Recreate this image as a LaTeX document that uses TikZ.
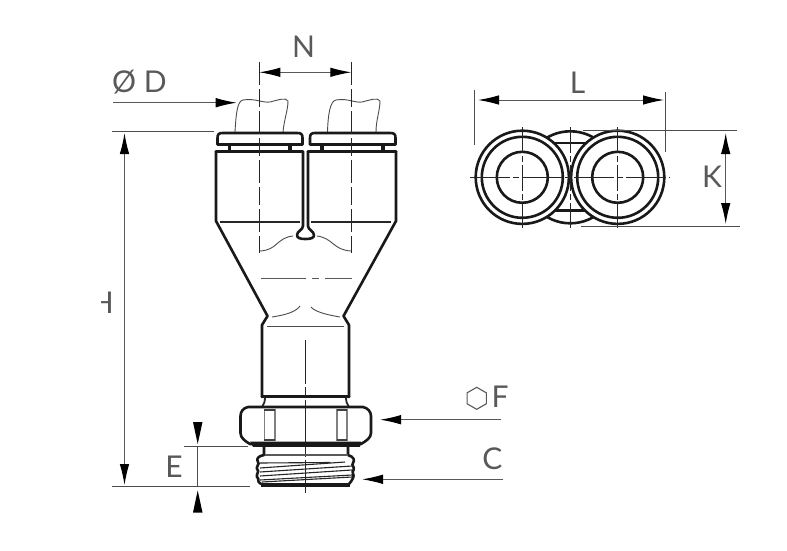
\documentclass[tikz,border=0pt]{standalone}
\usepackage{fontspec}
\setmainfont{Lato}
\usetikzlibrary{arrows.meta}
\tikzset{
 x=1pt,y=-1pt,
 thick line/.style={line width=2.6pt,black!90,line join=round,line cap=round},
 mid line/.style={line width=1.1pt,black!85},
 thin line/.style={line width=0.9pt,black!70},
 dim line/.style={line width=1pt,black!70},
 center line/.style={line width=0.9pt,black!85},
 dimarrow/.style={line width=1pt,black!65,{Latex[length=21pt,width=9.5pt,black]}-{Latex[length=21pt,width=9.5pt,black]}},
 onearrow/.style={line width=1pt,black!65,-{Latex[length=21pt,width=9.5pt,black]}},
 lbl/.style={font=\fontsize{30}{30}\selectfont,text=black!65,inner sep=0pt},
}
\begin{document}
\begin{tikzpicture}
\useasboundingbox (0,0) rectangle (787,551);
\fill[white] (0,0) rectangle (787,551);
% tube stubs
\draw[thin line] (235,132) .. controls (236,115) and (237,101) .. (243,100) .. controls (255,98) and (262,103) .. (270,102) .. controls (278,100) and (286,97) .. (288,101) .. controls (288,110) and (284,120) .. (283,132);
\draw[thin line] (327.5,132) .. controls (328,115) and (330,101) .. (336,100) .. controls (348,98) and (354,103) .. (362,102) .. controls (370,100) and (378,97) .. (380,101) .. controls (380,110) and (376,120) .. (376,132);
% caps
\draw[thick line] (217.5,144.5) -- (217.5,138) .. controls (217.5,134) and (219,133) .. (223,133) -- (297,133) .. controls (301,133) and (302.5,134) .. (302.5,138) -- (302.5,144.5) -- cycle;
\draw[thick line] (310,144.5) -- (310,138) .. controls (310,134) and (311.5,133) .. (315,133) -- (390,133) .. controls (394,133) and (395.5,134) .. (395.5,138) -- (395.5,144.5) -- cycle;
\foreach \x in {229.3,290,321.7,382.7}{\fill[black!90] (\x-1.8,145) rectangle (\x+1.8,151);}
% body
\draw[thick line] (216,151.5) -- (302.5,151.5) (308,151.5) -- (396,151.5);
\draw[thick line] (216,151.5) -- (216,221) -- (267.5,316) -- (262,325) -- (262,397);
\draw[thick line] (396,151.5) -- (396,221) -- (343.5,316) -- (349,325) -- (349,397);
\draw[thick line] (262,396.5) -- (349,396.5);
\draw[thick line] (303,151.5) -- (303,226) .. controls (303,230) and (297,231) .. (297,235) .. controls (297,238) and (300,239) .. (305.3,239) .. controls (311,239) and (314,238) .. (314,235) .. controls (314,231) and (308,230) .. (308,226) -- (308,151.5);
\draw[mid line] (220,222) -- (300,222) (311,222) -- (391,222);
\draw[mid line,black!70] (267,326.7) -- (344,326.7);
% inner curves
\draw[thin line] (260,251) .. controls (278,250) and (276,238) .. (293,236);
\draw[thin line] (317,236) .. controls (333,238) and (333,250) .. (351,251);
\draw[thin line] (272,317) .. controls (285,315) and (296,312) .. (300,306);
\draw[thin line] (311,307) .. controls (315,312) and (328,315) .. (340,317);
% centre lines
\draw[center line,dash pattern=on 23pt off 4pt on 18pt off 4pt] (259.3,62) -- (259.3,253);
\draw[center line,dash pattern=on 23pt off 4pt on 18pt off 4pt] (351.3,62) -- (351.3,253);
\draw[line width=1pt,black!65] (261,278) -- (306,278) (312,278) -- (319,278) (325,278) -- (352,278);
\draw[center line,dash pattern=on 44pt off 3pt on 10pt off 3pt] (305.3,340) -- (305.3,493);
% neck
\draw[mid line,line width=1.8pt] (265,397) .. controls (265,402) and (264,404) .. (262,407);
\draw[mid line,line width=1.8pt] (346,397) .. controls (346,402) and (347,404) .. (349,407);
% nut
\draw[thick line] (248,407) -- (363,407) .. controls (368,408) and (371,412) .. (371,416) -- (371,433) .. controls (371,438) and (366,441) .. (361,444) -- (250,444) .. controls (245,441) and (240.5,438) .. (240.5,433) -- (240.5,416) .. controls (240.5,412) and (243,408) .. (248,407) -- cycle;
\fill[black!90] (250,441.5) -- (361,441.5) -- (360,446.8) -- (253,446.8) -- cycle;
\draw[line width=1.2pt,black!50] (264.5,409) -- (264.5,441) (275,409) -- (275,441) (337,409) -- (337,441) (347,409) -- (347,441);
\draw[line width=1.2pt,black!75] (264,410) -- (275,410) (264,440) -- (275,440) (337,410) -- (347,410) (337,440) -- (347,440);
% thread
\draw[thick line] (264,447) -- (264,455) .. controls (258,456) and (256,459) .. (258,462) .. controls (260,464) and (256,466) .. (257,469) .. controls (260,471) and (256,474) .. (257,477) .. controls (260,479) and (256,481) .. (261,484);
\draw[thick line] (348,447) -- (348,455) .. controls (354,457) and (355,460) .. (353,463) .. controls (351,465) and (355,467) .. (353.5,470) .. controls (351,472) and (355,475) .. (353,478) .. controls (351,480) and (352,482) .. (349,484);
\draw[mid line,black!65] (265,455) -- (348,455);
\fill[black!90] (261,483) rectangle (350,486.8);
\draw[mid line] (260,463) -- (330,462.5);
\draw[mid line] (260,468) -- (345,462);
\draw[mid line] (260,472) -- (352,466);
\draw[mid line] (260,476) -- (352,470);
\draw[mid line] (260,480) -- (352,475);
\draw[mid line] (262,482) -- (352,477);
% dimensions left
\coordinate (nL) at (259.3,72.3); \coordinate (nR) at (351.3,72.3);
\draw[dimarrow] (nL) -- (nR);
\node[lbl] (N) at (303.5,47) {N};
\coordinate (dA) at (113,102.7); \coordinate (dB) at (236.7,102.7);
\draw[onearrow] (dA) -- (dB);
\node[lbl] (D) at (139.5,82.5) {Ø D};
\coordinate (hT) at (112,131.3); \coordinate (hE) at (214,131.3);
\draw[dim line] (hT) -- (hE);
\coordinate (bT) at (112,486.7); \coordinate (bE) at (250,486.7);
\draw[dim line] (bT) -- (bE);
\coordinate (h1) at (124.5,133); \coordinate (h2) at (124.5,485);
\draw[dimarrow] (h1) -- (h2);
\node[lbl,anchor=east] (H) at (114,303) {H};
\fill[white] (85,285) rectangle (100.5,320);
\coordinate (eT) at (184,446.3); \coordinate (eE) at (248,446.3);
\draw[dim line] (eT) -- (eE);
\draw[dim line] (197.7,446.3) -- (197.7,486.7);
\fill[black] (193,422) -- (202.5,422) -- (197.7,444) -- cycle;
\fill[black] (193,512.5) -- (202.5,512.5) -- (197.7,490.5) -- cycle;
\node[lbl] (E) at (174,466.5) {E};
% F, C
\coordinate (fA) at (501,419.7); \coordinate (fB) at (380,419.7);
\draw[onearrow] (fA) -- (fB);
\coordinate (cA) at (503,479.3); \coordinate (cB) at (362,479.3);
\draw[onearrow] (cA) -- (cB);
\draw[line width=1.1pt,black!65] (476.7,387.3) -- (486.3,392.8) -- (486.3,403.8) -- (476.7,409.3) -- (467.1,403.8) -- (467.1,392.8) -- cycle;
\node[lbl] (F) at (500,397) {F};
\node[lbl] (C) at (492.5,458.5) {C};
% right view
\coordinate (mc) at (570.3,177.3);
\coordinate (lc) at (522.3,177.3);
\coordinate (rc) at (617.7,177.3);
\draw[thick line] (mc) circle (46);
\draw[thick line] (548,143) -- (592,143) (548,210.7) -- (592,210.7);
\foreach \c in {lc,rc}{
 \draw[thick line,fill=white] (\c) circle (46.6);
 \draw[thick line] (\c) circle (40.5);
 \draw[thick line] (\c) circle (25.5);
}
\draw[center line,dash pattern=on 40pt off 3pt on 6pt off 3pt] (470,177.3) -- (670,177.3);
\foreach \x in {522.3,570.3,617.7}{\draw[center line,dash pattern=on 26pt off 3pt on 6pt off 3pt] (\x,127) -- (\x,228);}
% L, K
\coordinate (lA) at (478,100); \coordinate (lB) at (664,100);
\draw[dimarrow] (lA) -- (lB);
\draw[dim line] (474.5,90) -- (474.5,145) (665,92) -- (665,152);
\node[lbl] (L) at (577.5,83) {L};
\coordinate (kT) at (583,130); \coordinate (kTe) at (737,130);
\coordinate (kB) at (581,226); \coordinate (kBe) at (740,226);
\draw[dim line] (kT) -- (kTe) (kB) -- (kBe);
\coordinate (k1) at (725.7,133); \coordinate (k2) at (725.7,224);
\draw[dimarrow] (k1) -- (k2);
\node[lbl] (K) at (712,177) {K};
\end{tikzpicture}
\end{document}
